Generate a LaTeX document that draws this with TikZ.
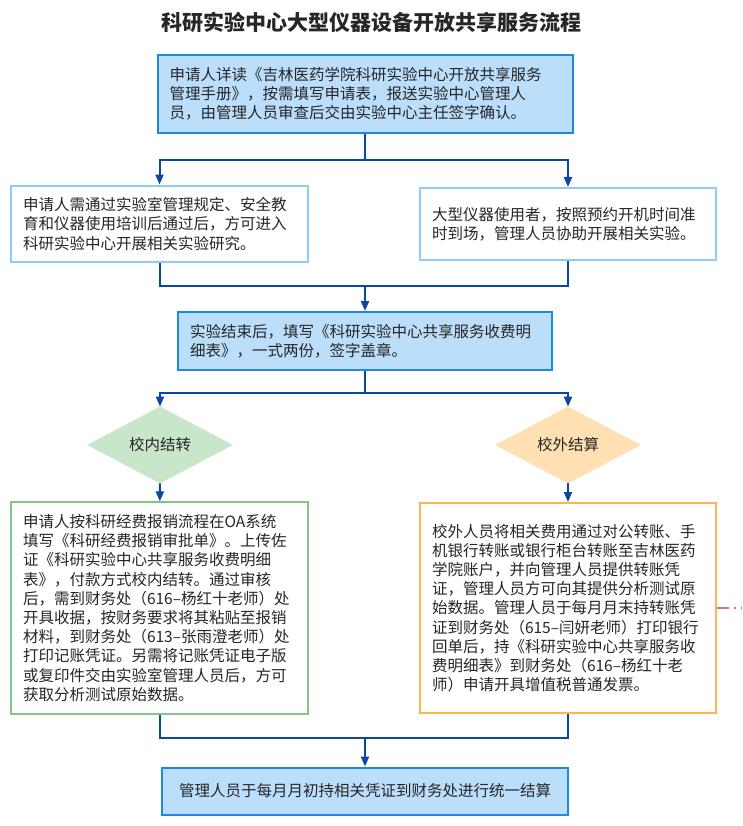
\documentclass[tikz,border=0pt]{standalone}
\usepackage{fontspec}
\setmainfont{Noto Sans CJK SC}
\usetikzlibrary{shapes,arrows,arrows.meta,positioning}

\definecolor{flowblue}{HTML}{0D47A1}
\definecolor{boxblue}{HTML}{1E88E5}
\definecolor{paleblue}{HTML}{BBDEFB}
\definecolor{edgeblue}{HTML}{90CAF9}
\definecolor{edgegreen}{HTML}{81C784}
\definecolor{palegreen}{HTML}{C8E6C9}
\definecolor{edgeorange}{HTML}{FFB74D}
\definecolor{paleorange}{HTML}{FFE0B2}
\definecolor{dashred}{HTML}{E57373}
\definecolor{textgray}{HTML}{262626}

\begin{document}
\begin{tikzpicture}[x=1pt, y=-1pt,
    every node/.style={font=\fontsize{15.5pt}{19.2pt}\selectfont, text=textgray},
    keybox/.style={rectangle, draw=boxblue, line width=2pt, fill=paleblue, inner sep=12pt},
    stepbox/.style={rectangle, draw=edgeblue, line width=2pt, fill=white, inner sep=12pt, align=left},
    choice/.style={diamond, draw=#1, fill=#1, minimum width=145pt, minimum height=54pt, inner sep=0pt},
    conn/.style={draw=flowblue, line width=2pt},
    arr/.style={conn, -{Triangle[length=10pt, width=8pt]}}]

    \path[use as bounding box, fill=white] (0,0) rectangle (742,826);

    % Title
    \node[font=\fontsize{21pt}{25pt}\selectfont\bfseries, text=black!85] (title) at (371,22) {科研实验中心大型仪器设备开放共享服务流程};

    % Application
    \node[keybox, text width=391pt, minimum height=74pt, align=left] (req) at (365,94) {申请人详读《吉林医药学院科研实验中心开放共享服务\\管理手册》，按需填写申请表，报送实验中心管理人\\员，由管理人员审查后交由实验中心主任签字确认。};

    % Two kinds of users
    \node[stepbox, text width=273pt, minimum height=72pt] (train) at (159.5,224) {申请人需通过实验室管理规定、安全教\\育和仪器使用培训后通过后，方可进入\\科研实验中心开展相关实验研究。};
    \node[stepbox, text width=272pt, minimum height=72pt] (user) at (568,224) {大型仪器使用者，按照预约开机时间准\\时到场，管理人员协助开展相关实验。};

    % Fee form
    \node[keybox, text width=350pt, minimum height=56pt, align=left] (fill) at (365,341) {实验结束后，填写《科研实验中心共享服务收费明\\细表》，一式两份，签字盖章。};

    % Payment choice
    \node[choice=palegreen] (inner) at (160,445) {校内结转};
    \node[choice=paleorange] (outer) at (568,445) {校外结算};

    % Payment details
    \node[stepbox, draw=edgegreen, text width=273pt, minimum height=210pt] (innerbox) at (159.5,608) {申请人按科研经费报销流程在OA系统\\填写《科研经费报销审批单》。上传佐\\证《科研实验中心共享服务收费明细\\表》，付款方式校内结转。通过审核\\后，需到财务处（616–杨红十老师）处\\开具收据，按财务要求将其粘贴至报销\\材料，到财务处（613–张雨澄老师）处\\打印记账凭证。另需将记账凭证电子版\\或复印件交由实验室管理人员后，方可\\获取分析测试原始数据。};
    \node[stepbox, draw=edgeorange, text width=272pt, minimum height=210pt] (outerbox) at (568,608) {校外人员将相关费用通过对公转账、手\\机银行转账或银行柜台转账至吉林医药\\学院账户，并向管理人员提供转账凭\\证，管理人员方可向其提供分析测试原\\始数据。管理人员于每月月末持转账凭\\证到财务处（615–闫妍老师）打印银行\\回单后，持《科研实验中心共享服务收\\费明细表》到财务处（616–杨红十老\\师）申请开具增值税普通发票。};

    % Monthly settlement
    \node[keybox, minimum width=406pt, minimum height=47pt, align=center] (settle) at (365,791) {管理人员于每月月初持相关凭证到财务处进行统一结算};

    % Connecting lines
    \coordinate (s1) at (365,160);
    \draw[conn] (req) -- (s1);
    \draw[arr] (s1) -| (train);
    \draw[arr] (s1) -| (user);

    \coordinate (m1) at (365,286);
    \draw[conn] (train) |- (m1);
    \draw[conn] (user) |- (m1);
    \draw[arr] (m1) -- (fill);

    \coordinate (s2) at (365,393);
    \draw[conn] (fill) -- (s2);
    \draw[arr] (s2) -| (inner);
    \draw[arr] (s2) -| (outer);

    \draw[arr] (inner) -- (innerbox);
    \draw[arr] (outer) -- (outerbox);

    \coordinate (m2) at (365,738);
    \draw[conn] (innerbox) |- (m2);
    \draw[conn] (outerbox) |- (m2);
    \draw[arr] (m2) -- (settle);

    % Loose link on the right
    \coordinate (cut) at (742,608);
    \draw[dashred, line width=2pt, dash pattern=on 12pt off 5pt on 2pt off 5pt] (outerbox.east) -- (cut);
\end{tikzpicture}
\end{document}
